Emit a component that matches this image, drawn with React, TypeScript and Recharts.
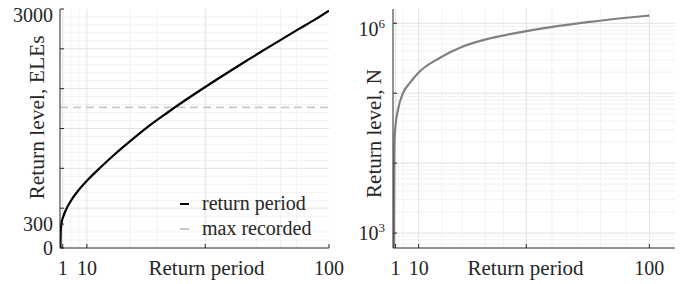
import { LineChart, Line, XAxis, YAxis, ReferenceLine, Legend } from "recharts";

const SERIF = '"Liberation Serif", "Times New Roman", serif';
const INK = "#262626";
const BOX = "#8c8c8c";
const GRID = "#e2e2e2";
const GRID_MINOR = "#f1f1f1";

// left panel: return level (ELEs) against return period
const periodEle = [0.15, 0.3, 0.6, 1.2, 2.5, 4, 7, 11, 15, 21, 27, 33, 40, 46, 52, 58, 64, 70, 76.5, 83, 89, 95, 100];
const levelEle = [0, 230, 320, 392, 500, 590, 730, 880, 1010, 1196, 1367, 1530, 1701, 1842, 1977, 2109, 2238, 2364, 2499, 2632, 2753, 2873, 2980];
const maxRecorded = 1765;
const recordSpan = [0, 100];
const eleTicks = [0, 300, 500, 1000, 1500, 2000, 2500, 3000];
const eleLabels = [0, 300, 3000];
const eleMinor = [100, 200, 400, 600, 700, 800, 900, 1100, 1200, 1300, 1400, 1600, 1700, 1800, 1900, 2100, 2200, 2300, 2400, 2600, 2700, 2800, 2900];
const eleXTicks = [1, 10, 54, 100];
const eleXMinor = [4, 7, 26, 36, 73, 82, 88];

// right panel: return level (N, log scale) against return period
const periodN = [0.35, 0.4, 0.45, 0.5, 0.6, 1.0, 1.9, 3.9, 6.5, 10.4, 18, 27, 38, 51, 64, 77, 90, 100];
const levelN = [620, 2000, 6000, 12000, 21000, 35000, 57000, 100000, 139000, 204000, 316000, 460000, 610000, 760000, 910000, 1050000, 1190000, 1290000];
const nTicks = [1e3, 1e4, 1e5, 1e6];
const nLabels = [1e3, 1e6];
const nMinor = [700, 800, 900, 2e3, 3e3, 4e3, 5e3, 6e3, 7e3, 8e3, 9e3, 2e4, 3e4, 4e4, 5e4, 6e4, 7e4, 8e4, 9e4, 2e5, 3e5, 4e5, 5e5, 6e5, 7e5, 8e5, 9e5];
const nXTicks = [1, 10, 52, 100];
const nXMinor = [4, 19, 27, 36, 43, 62, 72, 81, 91];

const LABEL_GAP = 20;

function BottomTick(props: any) {
  const { x, y, payload, labels } = props;
  const axisY = y - LABEL_GAP;
  return (
    <g>
      <line x1={x} x2={x} y1={axisY} y2={axisY - 4} stroke={INK} />
      {labels.includes(payload.value) && (
        <text x={x} y={y} dy="0.35em" textAnchor="middle" fontFamily={SERIF} fontSize={20} fill={INK}>
          {payload.value}
        </text>
      )}
    </g>
  );
}

function LeftTick(props: any) {
  const { x, y, payload, labels, top, power } = props;
  const axisX = x + 7;
  const v = payload.value;
  const nudge = v === top ? 6 : 0;
  return (
    <g>
      <line x1={axisX} x2={axisX + 4} y1={y} y2={y} stroke={INK} />
      {labels.includes(v) &&
        (power ? (
          <text x={x - 1} y={y + nudge} dy="0.35em" textAnchor="end" fontFamily={SERIF} fontSize={20} fill={INK}>
            <tspan>10</tspan>
            <tspan dy={-8} fontSize={13}>
              {Math.round(Math.log10(v))}
            </tspan>
          </text>
        ) : (
          <text x={x} y={y + nudge} dy="0.35em" textAnchor="end" fontFamily={SERIF} fontSize={20} fill={INK}>
            {v}
          </text>
        ))}
    </g>
  );
}

function TopTick(props: any) {
  const { x, y } = props;
  return <line x1={x} x2={x} y1={y} y2={y + 4} stroke={BOX} />;
}

function RightTick(props: any) {
  const { x, y } = props;
  return <line x1={x} x2={x - 4} y1={y} y2={y} stroke={BOX} />;
}

const sideTitle = (text: string, dx: number, dy: number, size: number) => (props: any) => {
  const vb = props.viewBox;
  const cx = vb.x + dx;
  const cy = vb.y + vb.height / 2 + dy;
  return (
    <text x={cx} y={cy} transform={`rotate(-90 ${cx} ${cy})`} textAnchor="middle" dominantBaseline="central" fontFamily={SERIF} fontSize={size} fill={INK}>
      {text}
    </text>
  );
};

const bottomTitle = (text: string, dx: number) => (props: any) => {
  const vb = props.viewBox;
  return (
    <text x={vb.x + vb.width / 2 + dx} y={vb.y + 20} dy="0.35em" textAnchor="middle" fontFamily={SERIF} fontSize={21} fill={INK}>
      {text}
    </text>
  );
};

function LegendBox({ payload }: any) {
  return (
    <div style={{ fontFamily: SERIF, fontSize: 20, color: INK }}>
      {(payload || []).map((p: any) => (
        <div key={p.value} style={{ display: "flex", alignItems: "center", height: 25, whiteSpace: "nowrap" }}>
          <span style={{ display: "inline-block", width: 9, height: 2, background: p.color, marginRight: 13 }} />
          {p.value}
        </div>
      ))}
    </div>
  );
}

export default function App() {
  const eleRows = periodEle.map((t, i) => ({ t, level: levelEle[i] }));
  const recordRows = recordSpan.map((t) => ({ t, level: maxRecorded }));
  const nRows = periodN.map((t, i) => ({ t, level: levelN[i] }));

  return (
    <div style={{ position: "absolute", left: 0, top: 0, width: 684, height: 284, background: "#fff", overflow: "hidden" }}>
      <div style={{ position: "absolute", left: 0, top: 0 }}>
        <LineChart width={352} height={284} margin={{ top: 9, right: 23, bottom: 0, left: 0 }}>
          <XAxis
            dataKey="t"
            type="number"
            domain={[0, 100]}
            ticks={eleXTicks}
            interval={0}
            allowDataOverflow
            height={36}
            tickSize={0}
            tickMargin={LABEL_GAP}
            axisLine={{ stroke: INK }}
            tick={(p: any) => <BottomTick {...p} labels={[1, 10, 100]} />}
            label={{ content: bottomTitle("Return period", 12) }}
          />
          <XAxis xAxisId="top" orientation="top" type="number" domain={[0, 100]} ticks={eleXTicks} interval={0} height={0} tickSize={0} tickMargin={0} axisLine={{ stroke: BOX }} tick={(p: any) => <TopTick {...p} />} />
          <YAxis
            type="number"
            domain={[0, 3000]}
            ticks={eleTicks}
            interval={0}
            allowDataOverflow
            width={60}
            tickSize={0}
            tickMargin={7}
            axisLine={{ stroke: INK }}
            tick={(p: any) => <LeftTick {...p} labels={eleLabels} top={3000} />}
            label={{ content: sideTitle("Return level, ELEs", 36.5, -11, 21.5) }}
          />
          <YAxis yAxisId="right" orientation="right" type="number" domain={[0, 3000]} ticks={eleTicks.filter((v) => v !== 300)} interval={0} width={0} tickSize={0} tickMargin={0} axisLine={{ stroke: BOX }} tick={(p: any) => <RightTick {...p} />} />
          {eleMinor.map((v) => (
            <ReferenceLine key={`hm${v}`} y={v} stroke={GRID_MINOR} />
          ))}
          {eleXMinor.map((v) => (
            <ReferenceLine key={`vm${v}`} x={v} stroke={GRID_MINOR} />
          ))}
          {eleTicks.filter((v) => v > 0 && v < 3000 && v !== 300).map((v) => (
            <ReferenceLine key={`h${v}`} y={v} stroke={GRID} />
          ))}
          {eleXTicks.filter((v) => v < 100).map((v) => (
            <ReferenceLine key={`v${v}`} x={v} stroke={GRID} />
          ))}
          <Line data={recordRows} dataKey="level" name="max recorded" stroke="#c8c8c8" strokeWidth={1.6} strokeDasharray="8 5" dot={false} isAnimationActive={false} />
          <Line data={eleRows} dataKey="level" name="return period" type="monotone" stroke="#000" strokeWidth={2.2} dot={false} isAnimationActive={false} />
          <Legend
            layout="vertical"
            verticalAlign="middle"
            align="center"
            itemSorter={(item: any) => (item.value === "return period" ? 0 : 1)}
            content={(p: any) => <LegendBox {...p} />}
            wrapperStyle={{ left: 180, top: 191, width: 150 }}
          />
        </LineChart>
      </div>
      <div style={{ position: "absolute", left: 340, top: 0 }}>
        <LineChart width={344} height={284} margin={{ top: 9, right: 9, bottom: 0, left: 0 }}>
          <XAxis
            dataKey="t"
            type="number"
            domain={[0, 110]}
            ticks={nXTicks}
            interval={0}
            allowDataOverflow
            height={36}
            tickSize={0}
            tickMargin={LABEL_GAP}
            axisLine={{ stroke: INK }}
            tick={(p: any) => <BottomTick {...p} labels={[1, 10, 100]} />}
            label={{ content: bottomTitle("Return period", -8.5) }}
          />
          <XAxis xAxisId="top" orientation="top" type="number" domain={[0, 110]} ticks={nXTicks} interval={0} height={0} tickSize={0} tickMargin={0} axisLine={{ stroke: BOX }} tick={(p: any) => <TopTick {...p} />} />
          <YAxis
            type="number"
            scale="log"
            domain={[611, 1.6e6]}
            ticks={nTicks}
            interval={0}
            allowDataOverflow
            width={53}
            tickSize={0}
            tickMargin={7}
            axisLine={{ stroke: INK }}
            tick={(p: any) => <LeftTick {...p} labels={nLabels} top={1e6} power />}
            label={{ content: sideTitle("Return level, N", 33.5, 5, 21) }}
          />
          <YAxis yAxisId="right" orientation="right" type="number" scale="log" domain={[611, 1.6e6]} ticks={nTicks} interval={0} width={0} tickSize={0} tickMargin={0} axisLine={{ stroke: BOX }} tick={(p: any) => <RightTick {...p} />} />
          {nMinor.map((v) => (
            <ReferenceLine key={`hm${v}`} y={v} stroke={GRID_MINOR} />
          ))}
          {nXMinor.map((v) => (
            <ReferenceLine key={`vm${v}`} x={v} stroke={GRID_MINOR} />
          ))}
          {nTicks.map((v) => (
            <ReferenceLine key={`h${v}`} y={v} stroke={GRID} />
          ))}
          {nXTicks.map((v) => (
            <ReferenceLine key={`v${v}`} x={v} stroke={GRID} />
          ))}
          <Line data={nRows} dataKey="level" type="monotone" stroke="#808080" strokeWidth={2.2} dot={false} isAnimationActive={false} />
        </LineChart>
      </div>
    </div>
  );
}
